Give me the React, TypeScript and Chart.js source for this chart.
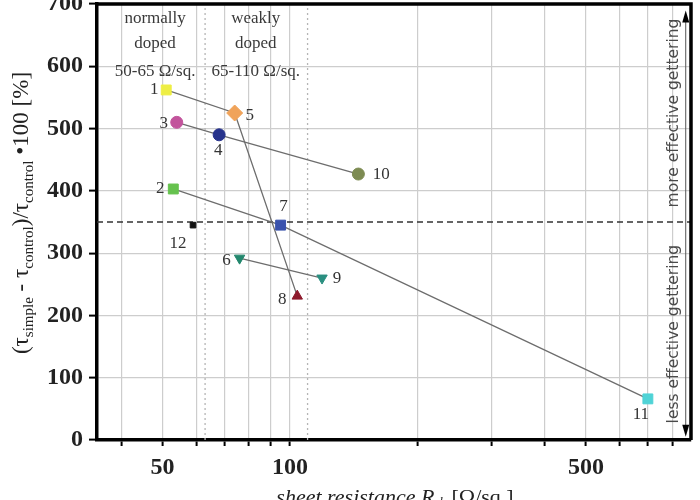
import React, { useEffect, useRef } from "react";
import { Chart, registerables } from "chart.js";

Chart.register(...registerables);

// ---- data ----
const sampleIds = ["1", "2", "3", "4", "5", "6", "7", "8", "9", "10", "11", "12"];
const sheetResistance = [51, 53, 54, 68, 74, 76, 95, 104, 119, 145, 700, 59];
const relativeGain = [562, 403, 510, 490, 525, 292, 345, 231, 260, 427, 66, 345];
const connections = [
  ["1", "5", "8"],
  ["3", "4", "10"],
  ["2", "7", "11"],
  ["6", "9"],
];
const xTickValues = [40, 50, 60, 70, 80, 90, 100, 200, 300, 400, 500, 600, 700, 800];
const xLabelValues = [50, 100, 500];
const xMin = 35;
const xMax = 885;
const yMin = 0;
const yMax = 700;
const thresholdValue = 350;
const regionBounds = [63, 110];
const regionTitles = [
  ["normally", "doped", "50-65 Ω/sq."],
  ["weakly", "doped", "65-110 Ω/sq."],
];
const sideNotes = ["more effective gettering", "less effective gettering"];

// ---- styles ----
const pointColors = [
  "#eeee44", "#66c24e", "#c2549c", "#27338c", "#f0a35a", "#23876d",
  "#3a52ad", "#8e1a2c", "#2a8f80", "#7d8b52", "#4fd3d6", "#111111",
];
const pointStyles = ["rect", "rect", "circle", "circle", "rectRot", "triangle", "rect", "triangle", "triangle", "circle", "rect", "rect"];
const pointRotations = [0, 0, 0, 0, 0, 180, 0, 0, 180, 0, 0, 0];
const pointRadii = [7, 7, 6, 6, 8, 6, 7, 6, 6, 6, 7, 4];
const labelOffsets = [
  [-12, 0], [-13, 0], [-13, 1], [-1, 16], [15, 3], [-13, 2],
  [3, -19], [-15, 3], [15, 0], [23, 0], [-7, 16], [-15, 18],
];
const regionTitleX = [48, 83];
const regionTitleY = [676, 636, 592];

type Seg = { t: string; f: string; dy?: number };

function drawRich(ctx: CanvasRenderingContext2D, segs: Seg[], cx: number, cy: number, rot: number) {
  ctx.save();
  ctx.translate(cx, cy);
  ctx.rotate(rot);
  let w = 0;
  for (const s of segs) {
    ctx.font = s.f;
    w += ctx.measureText(s.t).width;
  }
  let x = -w / 2;
  ctx.textBaseline = "middle";
  ctx.textAlign = "left";
  for (const s of segs) {
    ctx.font = s.f;
    ctx.fillText(s.t, x, s.dy || 0);
    x += ctx.measureText(s.t).width;
  }
  ctx.restore();
}

export default function App() {
  const ref = useRef<HTMLCanvasElement | null>(null);

  useEffect(() => {
    document.body.style.margin = "0";
    const canvas = ref.current;
    if (!canvas) return;

    const points = sampleIds.map((_, i) => ({ x: sheetResistance[i], y: relativeGain[i] }));
    const idx = (id: string) => sampleIds.indexOf(id);

    const lineSets = connections.map((grp) => ({
      type: "line" as const,
      data: grp.map((id) => ({ x: sheetResistance[idx(id)], y: relativeGain[idx(id)] })),
      borderColor: "#6d6d6d",
      borderWidth: 1.3,
      pointRadius: 0,
      showLine: true,
      fill: false,
      order: 3,
    }));

    const thresholdSet = {
      type: "line" as const,
      data: [
        { x: xMin, y: thresholdValue },
        { x: xMax, y: thresholdValue },
      ],
      borderColor: "#333",
      borderWidth: 1.3,
      borderDash: [6, 4],
      pointRadius: 0,
      fill: false,
      order: 4,
    };

    const boundSets = regionBounds.map((b) => ({
      type: "line" as const,
      data: [
        { x: b, y: yMin },
        { x: b, y: yMax },
      ],
      borderColor: "#b5b5b5",
      borderWidth: 1.3,
      borderDash: [2, 3],
      pointRadius: 0,
      fill: false,
      order: 5,
    }));

    const pointSet = {
      type: "scatter" as const,
      data: points,
      backgroundColor: pointColors,
      borderColor: pointColors,
      borderWidth: 1,
      pointStyle: pointStyles,
      pointRotation: pointRotations,
      pointRadius: pointRadii,
      order: 1,
    };

    const decor = {
      id: "decor",
      afterDatasetsDraw(chart: any) {
        const { ctx, chartArea: a, scales } = chart;
        const x = scales.x;
        const y = scales.y;
        ctx.save();
        // frame top & right
        ctx.strokeStyle = "#000";
        ctx.lineWidth = 3.5;
        ctx.beginPath();
        ctx.moveTo(a.left, a.top);
        ctx.lineTo(a.right, a.top);
        ctx.lineTo(a.right, a.bottom);
        ctx.stroke();

        // point labels
        const meta = chart.getDatasetMeta(chart.data.datasets.length - 1);
        ctx.font = "17px 'Liberation Serif'";
        ctx.fillStyle = "#333";
        ctx.textAlign = "center";
        ctx.textBaseline = "middle";
        meta.data.forEach((el: any, i: number) => {
          ctx.fillText(sampleIds[i], el.x + labelOffsets[i][0], el.y + labelOffsets[i][1]);
        });

        // region titles
        ctx.font = "17px 'Liberation Serif'";
        ctx.fillStyle = "#3a3a3a";
        regionTitles.forEach((lines, r) => {
          lines.forEach((line, j) => {
            ctx.fillText(line, x.getPixelForValue(regionTitleX[r]), y.getPixelForValue(regionTitleY[j]));
          });
        });

        // side notes
        const sx = x.getPixelForValue(805);
        ctx.font = "15.5px 'DejaVu Sans'";
        ctx.fillStyle = "#4a4a4a";
        [525, 170].forEach((v, i) => {
          ctx.save();
          ctx.translate(sx, y.getPixelForValue(v));
          ctx.rotate(-Math.PI / 2);
          ctx.fillText(sideNotes[i], 0, 0);
          ctx.restore();
        });

        // arrows
        const ax = x.getPixelForValue(860);
        const yc = y.getPixelForValue(thresholdValue);
        const yt = y.getPixelForValue(680);
        const yb = y.getPixelForValue(15);
        ctx.strokeStyle = "#555";
        ctx.lineWidth = 1;
        ctx.beginPath();
        ctx.moveTo(ax, yc);
        ctx.lineTo(ax, yt);
        ctx.moveTo(ax, yc);
        ctx.lineTo(ax, yb);
        ctx.stroke();
        ctx.fillStyle = "#000";
        ctx.beginPath();
        ctx.moveTo(ax, yt - 6);
        ctx.lineTo(ax - 3.5, yt + 6);
        ctx.lineTo(ax + 3.5, yt + 6);
        ctx.closePath();
        ctx.fill();
        ctx.beginPath();
        ctx.moveTo(ax, yb + 6);
        ctx.lineTo(ax - 3.5, yb - 6);
        ctx.lineTo(ax + 3.5, yb - 6);
        ctx.closePath();
        ctx.fill();

        // axis titles
        ctx.fillStyle = "#222";
        const main = "23px 'Liberation Serif'";
        const sub = "15px 'Liberation Serif'";
        drawRich(
          ctx,
          [
            { t: "(τ", f: main },
            { t: "simple", f: sub, dy: 7 },
            { t: " - τ", f: main },
            { t: "control", f: sub, dy: 7 },
            { t: ")/τ", f: main },
            { t: "control", f: sub, dy: 7 },
            { t: " •100 [%]", f: main },
          ],
          22,
          218,
          -Math.PI / 2
        );
        drawRich(
          ctx,
          [
            { t: "sheet resistance R", f: "italic 22px 'Liberation Serif'" },
            { t: "sh", f: "italic 13px 'Liberation Serif'", dy: 5 },
            { t: " [Ω/sq.]", f: "22px 'Liberation Serif'" },
          ],
          395,
          503,
          0
        );
        ctx.restore();
      },
    };

    const chart = new Chart(canvas, {
      type: "scatter",
      data: { datasets: [thresholdSet, ...boundSets, ...lineSets, pointSet] as any },
      options: {
        animation: false,
        responsive: false,
        layout: { padding: { top: 0, right: 9, left: 0, bottom: 0 } },
        plugins: { legend: { display: false }, tooltip: { enabled: false } },
        scales: {
          x: {
            type: "logarithmic",
            min: xMin,
            max: xMax,
            afterBuildTicks: (scale: any) => {
              scale.ticks = xTickValues.map((v) => ({ value: v }));
            },
            afterFit: (scale: any) => {
              scale.height = 60;
              scale.paddingLeft = 0;
              scale.paddingRight = 0;
            },
            ticks: {
              autoSkip: false,
              maxRotation: 0,
              padding: 7,
              color: "#222",
              font: { family: "'Liberation Serif'", size: 24, weight: "bold" },
              callback: (v: any) => (xLabelValues.includes(Number(v)) ? String(v) : ""),
            },
            grid: {
              color: "#cdcdcd",
              lineWidth: 1.2,
              tickColor: "#000",
              tickWidth: 2,
              tickLength: 6,
            },
            border: { color: "#000", width: 3.5 },
          },
          y: {
            min: yMin,
            max: yMax,
            afterFit: (scale: any) => {
              scale.width = 97;
              scale.paddingTop = 0;
              scale.paddingBottom = 0;
            },
            ticks: {
              stepSize: 50,
              padding: 6,
              color: "#222",
              font: { family: "'Liberation Serif'", size: 24, weight: "bold" },
              callback: (v: any) => (Number(v) % 100 === 0 ? String(v) : ""),
            },
            grid: {
              color: "#cdcdcd",
              lineWidth: 1.2,
              tickColor: "#000",
              tickWidth: 2,
              tickLength: 8,
            },
            border: { color: "#000", width: 3.5 },
          },
        },
      } as any,
      plugins: [decor],
    });
    return () => chart.destroy();
  }, []);

  return (
    <div style={{ width: 700, height: 500, overflow: "hidden" }}>
      <canvas ref={ref} width={700} height={505} style={{ display: "block", marginTop: -5 }} />
    </div>
  );
}
